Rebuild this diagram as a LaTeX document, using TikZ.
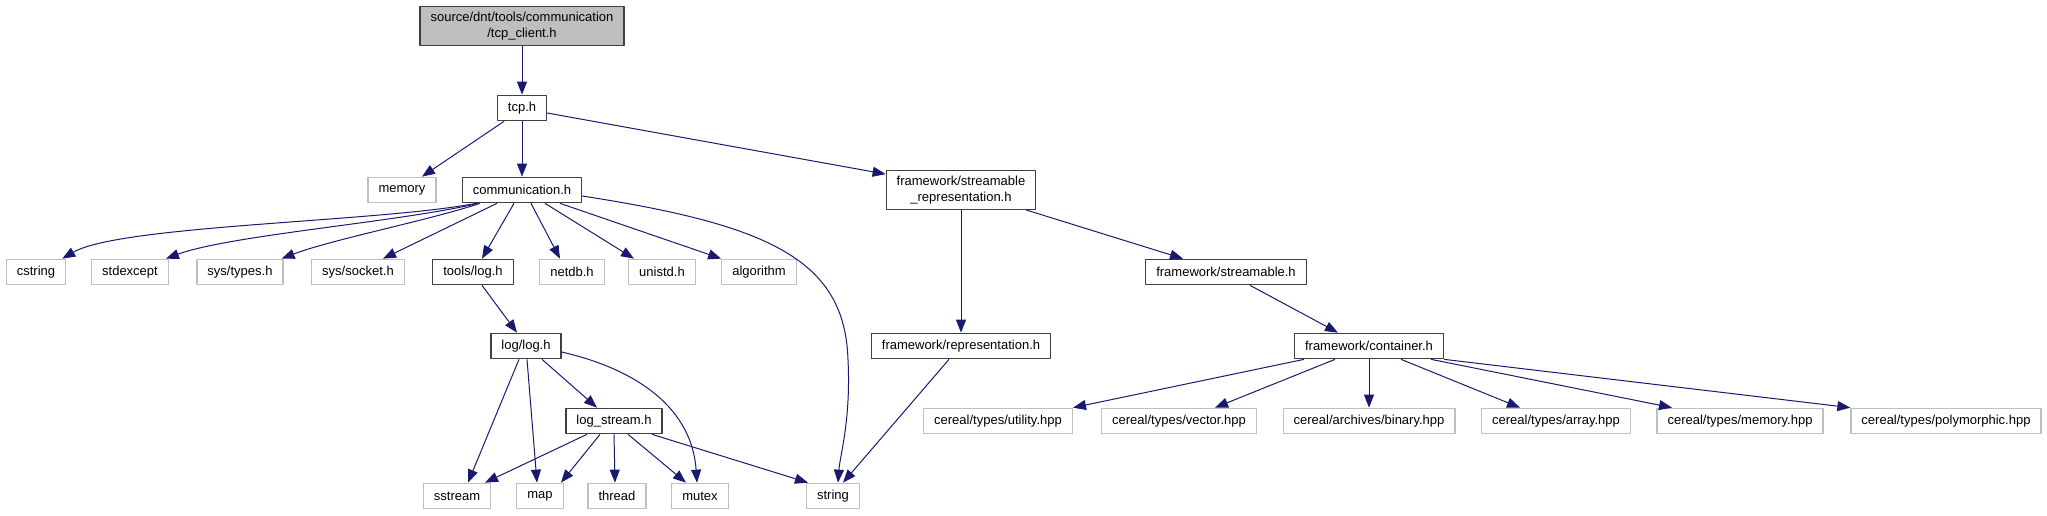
\documentclass[tikz,border=0pt]{standalone}
\usepackage{fontspec}
\setmainfont{Liberation Sans}
\usetikzlibrary{arrows.meta}
\definecolor{midnight}{HTML}{191970}

\begin{document}
\begin{tikzpicture}[x=1pt, y=-1pt, line join=round,
  box/.style={draw=black!75, fill=white, line width=1.2pt, inner xsep=10.5pt, inner ysep=5.5pt,
    minimum height=25.5pt, align=center, font=\fontsize{13}{15.5}\selectfont},
  ext/.style={box, draw=black!25},
  top/.style={box, fill=black!25},
  dep/.style={draw=midnight, line width=1pt, -{Triangle[length=13pt, width=10pt]}}]
\useasboundingbox (0,0) rectangle (2047,515);
\node[top] (root) at (522,26) {source/dnt/tools/communication\\/tcp\_client.h};
\node[box] (tcp) at (522,108) {tcp.h};
\node[ext] (memory) at (402,190) {memory};
\node[box] (comm) at (522,190) {communication.h};
\node[box] (fsr) at (961,190) {framework/streamable\\\_representation.h};
\node[ext] (cstring) at (36,272) {cstring};
\node[ext] (stdexcept) at (130,272) {stdexcept};
\node[ext] (systypes) at (240,272) {sys/types.h};
\node[ext] (syssocket) at (358,272) {sys/socket.h};
\node[box] (toolslog) at (473,272) {tools/log.h};
\node[ext] (netdb) at (572,272) {netdb.h};
\node[ext] (unistd) at (662,272) {unistd.h};
\node[ext] (algorithm) at (759,272) {algorithm};
\node[box] (fs) at (1226,272) {framework/streamable.h};
\node[box] (loglog) at (526,346) {log/log.h};
\node[box] (frep) at (961,346) {framework/representation.h};
\node[box] (fcont) at (1369,346) {framework/container.h};
\node[box] (logstream) at (614,421) {log\_stream.h};
\node[ext] (utility) at (998,421) {cereal/types/utility.hpp};
\node[ext] (vector) at (1179,421) {cereal/types/vector.hpp};
\node[ext] (binary) at (1369,421) {cereal/archives/binary.hpp};
\node[ext] (array) at (1556,421) {cereal/types/array.hpp};
\node[ext] (memhpp) at (1740,421) {cereal/types/memory.hpp};
\node[ext] (poly) at (1946,421) {cereal/types/polymorphic.hpp};
\node[ext] (sstream) at (457,496) {sstream};
\node[ext] (map) at (540,496) {map};
\node[ext] (thread) at (617,496) {thread};
\node[ext] (mutex) at (700,496) {mutex};
\node[ext] (string) at (833,496) {string};
\draw[dep] (root) -- (tcp);
\draw[dep] ([xshift=-18pt]tcp.south) -- ([xshift=20pt]memory.north);
\draw[dep] (tcp) -- (comm);
\draw[dep] ([yshift=-5pt]tcp.east) -- ([yshift=-4pt]fsr.north west);
\draw[dep] ([xshift=-46pt]comm.south) .. controls (380,222) and (120,225) .. ([xshift=-4pt]cstring.north east);
\draw[dep] ([xshift=-44pt]comm.south) .. controls (400,222) and (230,235) .. ([xshift=-3pt]stdexcept.north east);
\draw[dep] ([xshift=-42pt]comm.south) .. controls (430,220) and (330,240) .. ([xshift=-2pt]systypes.north east);
\draw[dep] ([xshift=-25pt]comm.south) -- ([xshift=25pt]syssocket.north);
\draw[dep] ([xshift=-8pt]comm.south) -- ([xshift=9pt]toolslog.north);
\draw[dep] ([xshift=9pt]comm.south) -- ([xshift=-12pt]netdb.north);
\draw[dep] ([xshift=23pt]comm.south) -- ([xshift=-28pt]unistd.north);
\draw[dep] ([xshift=38pt]comm.south) -- (algorithm.north west);
\draw[dep] ([yshift=-6pt]comm.east) .. controls (770,225) and (845,260) .. (848,360)
  .. controls (851,420) and (840,455) .. ([xshift=5pt]string.north);
\draw[dep] ([xshift=9pt]toolslog.south) -- ([xshift=-9pt]loglog.north);
\draw[dep] ([xshift=-7pt]loglog.south) -- ([xshift=11pt]sstream.north);
\draw[dep] ([xshift=1pt]loglog.south) -- ([xshift=-3pt]map.north);
\draw[dep] ([xshift=16pt]loglog.south) -- ([xshift=-17pt]logstream.north);
\draw[dep] ([yshift=-6pt]loglog.east) .. controls (640,370) and (692,410) .. ([xshift=-3pt]mutex.north);
\draw[dep] ([xshift=-27pt]logstream.south) -- ([xshift=28pt]sstream.north);
\draw[dep] ([xshift=-14pt]logstream.south) -- ([xshift=21pt]map.north);
\draw[dep] (logstream.south) -- ([xshift=-2pt]thread.north);
\draw[dep] ([xshift=14pt]logstream.south) -- ([xshift=-14pt]mutex.north);
\draw[dep] ([xshift=38pt]logstream.south) -- ([xshift=2pt]string.north west);
\draw[dep] (fsr) -- (frep);
\draw[dep] ([xshift=65pt]fsr.south) -- ([xshift=-43pt]fs.north);
\draw[dep] ([xshift=-12pt]frep.south) -- ([xshift=10pt]string.north);
\draw[dep] ([xshift=24pt]fs.south) -- ([xshift=-31pt]fcont.north);
\draw[dep] ([xshift=-65pt]fcont.south) -- ([xshift=75pt]utility.north);
\draw[dep] ([xshift=-34pt]fcont.south) -- ([xshift=36pt]vector.north);
\draw[dep] (fcont) -- (binary);
\draw[dep] ([xshift=32pt]fcont.south) -- ([xshift=-36pt]array.north);
\draw[dep] ([xshift=62pt]fcont.south) -- ([xshift=-68pt]memhpp.north);
\draw[dep] (fcont.south east) -- (poly.north west);
\end{tikzpicture}
\end{document}
